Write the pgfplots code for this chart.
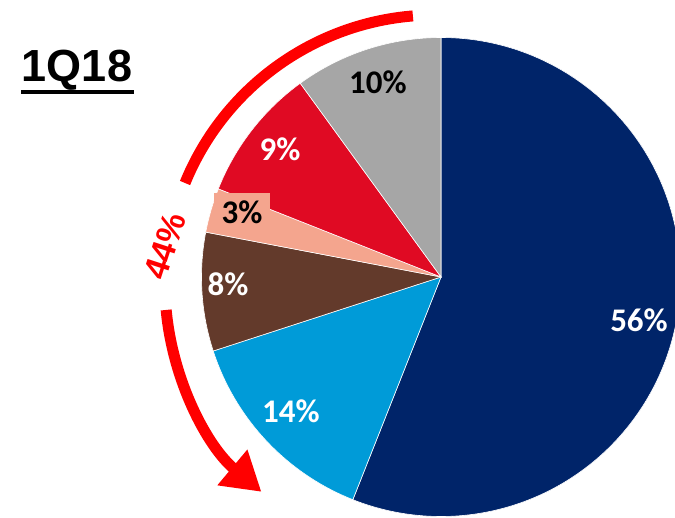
\documentclass[border=0pt]{standalone}
\usepackage{fontspec}
\setmainfont{Carlito}
\newfontfamily\arial{Liberation Sans}
\usepackage{pgfplots}
\pgfplotsset{compat=1.18}
\usetikzlibrary{arrows.meta}
\definecolor{cnavy}{HTML}{002469}
\definecolor{cblue}{HTML}{009BD8}
\definecolor{cbrown}{HTML}{633A2B}
\definecolor{csalmon}{HTML}{F4A58E}
\definecolor{cred}{HTML}{E00A23}
\definecolor{cgray}{HTML}{A6A6A6}
\definecolor{carrow}{HTML}{FF0000}
% shares (%)
\def\pA{56}\def\pB{14}\def\pC{8}\def\pD{3}\def\pE{9}\def\pF{10}
\pgfmathsetmacro\sA{3.6*\pA}
\pgfmathsetmacro\sB{3.6*\pB}
\pgfmathsetmacro\sC{3.6*\pC}
\pgfmathsetmacro\sD{3.6*\pD}
\pgfmathsetmacro\sE{3.6*\pE}
\pgfmathsetmacro\sF{3.6*\pF}
\pgfmathsetmacro\aA{90}
\pgfmathsetmacro\aB{\aA-\sA}
\pgfmathsetmacro\aC{\aB-\sB}
\pgfmathsetmacro\aD{\aC-\sC}
\pgfmathsetmacro\aE{\aD-\sD}
\pgfmathsetmacro\aF{\aE-\sE}
\def\cx{441}\def\cy{277}\def\R{239.5}
\newcommand\slice[3]{%
  \fill[#3, draw=white, line width=0.6pt] (axis cs:\cx,\cy) -- ++(#1:\R pt)
    arc[start angle=#1, delta angle=-#2, radius=\R pt] -- cycle;}
\begin{document}
\begin{tikzpicture}
\begin{axis}[
  width=675pt, height=517pt, scale only axis,
  xmin=0, xmax=675, ymin=0, ymax=517, y dir=reverse,
  hide axis, clip=true,
]
\slice{\aA}{\sA}{cnavy}
\slice{\aB}{\sB}{cblue}
\slice{\aC}{\sC}{cbrown}
\slice{\aD}{\sD}{csalmon}
\slice{\aE}{\sE}{cred}
\slice{\aF}{\sF}{cgray}
% labels
\node[font=\fontsize{33}{33}\selectfont\bfseries, text=white] at (axis cs:639,320) {\pA\%};
\node[font=\fontsize{33}{33}\selectfont\bfseries, text=white] at (axis cs:291,411) {\pB\%};
\node[font=\fontsize{33}{33}\selectfont\bfseries, text=white] at (axis cs:228,284) {\pC\%};
\node[font=\fontsize{33}{33}\selectfont\bfseries, text=black, fill=csalmon, inner xsep=8pt, inner ysep=7pt] at (axis cs:242,212) {\pD\%};
\node[font=\fontsize{33}{33}\selectfont\bfseries, text=white] at (axis cs:280,149) {\pE\%};
\node[font=\fontsize{33}{33}\selectfont\bfseries, text=black] at (axis cs:378,82) {\pF\%};
% 44% arrow
\draw[carrow, line width=11pt] (axis cs:435,285) ++(94.7:270pt)
   arc[start angle=94.7, end angle=157.8, radius=270pt];
\draw[carrow, line width=11pt, -{Triangle[length=38pt,width=44pt]}] (axis cs:435,285) ++(185.3:270pt)
   arc[start angle=185.3, end angle=230, radius=270pt];
\node[text=carrow, rotate=72, inner sep=0pt, font=\arial\bfseries\fontsize{34}{34}\selectfont] at (axis cs:165,246) {44\%};
% title
\node[font=\arial\fontsize{45}{45}\selectfont\bfseries, text=black] at (axis cs:77,70) {1Q18};
\fill[black] (axis cs:21,90) rectangle (axis cs:134,94);
\end{axis}
\pgfresetboundingbox
\useasboundingbox (current axis.south west) rectangle (current axis.north east);
\end{tikzpicture}
\end{document}
